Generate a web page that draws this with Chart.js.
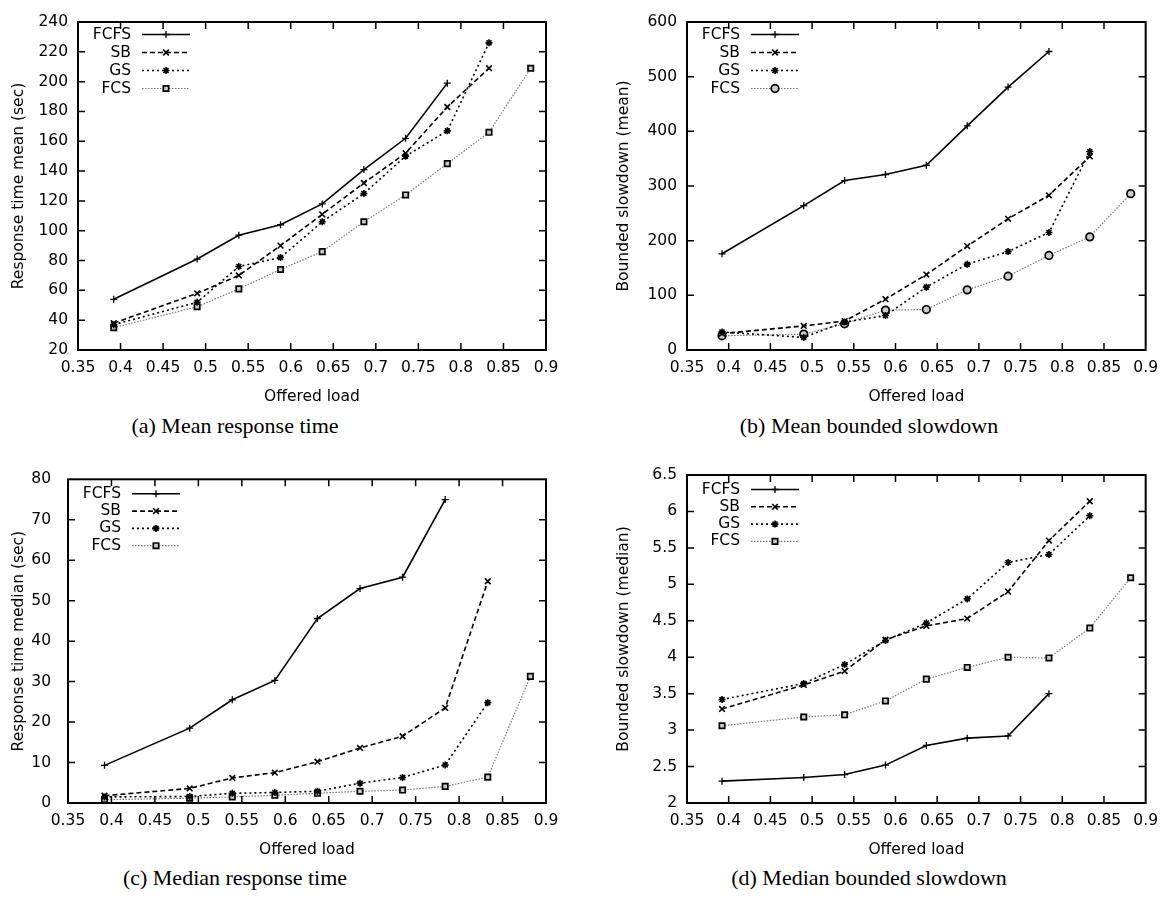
<!DOCTYPE html>
<html>
<head>
<meta charset="utf-8">
<script src="https://cdn.jsdelivr.net/npm/chart.js"></script>
<style>
  html, body { margin: 0; padding: 0; background: #fff; overflow: hidden; }
  body { width: 1167px; height: 900px; position: relative; }
  canvas { position: absolute; }
  .cap { position: absolute; width: 400px; text-align: center; font: 22px "Liberation Serif", "Times New Roman", serif; line-height: 22px; color: #000; }
</style>
</head>
<body>
<canvas id="meanResp" width="583" height="410" style="left:0;top:0"></canvas>
<canvas id="meanBsd" width="567" height="410" style="left:600px;top:0"></canvas>
<canvas id="medResp" width="583" height="410" style="left:0;top:453px"></canvas>
<canvas id="medBsd" width="567" height="410" style="left:600px;top:453px"></canvas>
<div class="cap" style="left:35px;top:415px">(a) Mean response time</div>
<div class="cap" style="left:669px;top:415px">(b) Mean bounded slowdown</div>
<div class="cap" style="left:35px;top:867px">(c) Median response time</div>
<div class="cap" style="left:669px;top:867px">(d) Median bounded slowdown</div>
<div id="dbg" style="position:absolute;left:0;top:884px;font:11px monospace;white-space:pre"></div>
<script>
// offered load for each run
var loads = [0.392, 0.49, 0.539, 0.588, 0.637, 0.686, 0.735, 0.784, 0.833, 0.882];
var xTicks = [0.35, 0.4, 0.45, 0.5, 0.55, 0.6, 0.65, 0.7, 0.75, 0.8, 0.85, 0.9];

// (a) mean response time (sec)
var fcfsMeanResp = [54, 81, 97, 104, 118, 141, 162, 199];
var sbMeanResp = [38, 58, 70, 90, 111, 132, 152, 183, 209];
var gsMeanResp = [37, 52, 76, 82, 106, 125, 150, 167, 226];
var fcsMeanResp = [35, 49, 61, 74, 86, 106, 124, 145, 166, 209];
var yTicksA = [20, 40, 60, 80, 100, 120, 140, 160, 180, 200, 220, 240];

// (b) mean bounded slowdown
var fcfsMeanBsd = [176, 264, 310, 321, 338, 410, 481, 546];
var sbMeanBsd = [30, 44, 53, 93, 138, 190, 240, 283, 354];
var gsMeanBsd = [33, 23, 51, 63, 115, 157, 180, 215, 363];
var fcsMeanBsd = [26, 29, 48, 73, 74, 110, 135, 173, 207, 286];
var yTicksB = [0, 100, 200, 300, 400, 500, 600];

// (c) median response time (sec)
var fcfsMedResp = [9.3, 18.5, 25.5, 30.3, 45.6, 53, 55.8, 75];
var sbMedResp = [1.8, 3.6, 6.2, 7.5, 10.2, 13.6, 16.5, 23.5, 54.8];
var gsMedResp = [1.5, 1.6, 2.4, 2.6, 2.9, 4.9, 6.3, 9.4, 24.8];
var fcsMedResp = [0.8, 1.2, 1.5, 1.9, 2.4, 2.9, 3.2, 4.1, 6.4, 31.3];
var yTicksC = [0, 10, 20, 30, 40, 50, 60, 70, 80];

// (d) median bounded slowdown
var fcfsMedBsd = [2.3, 2.35, 2.39, 2.52, 2.79, 2.89, 2.92, 3.5];
var sbMedBsd = [3.29, 3.62, 3.81, 4.24, 4.43, 4.53, 4.9, 5.6, 6.14];
var gsMedBsd = [3.42, 3.64, 3.9, 4.23, 4.47, 4.8, 5.3, 5.41, 5.94];
var fcsMedBsd = [3.06, 3.18, 3.21, 3.4, 3.7, 3.86, 4.0, 3.99, 4.4, 5.09];
var yTicksD = [2, 2.5, 3, 3.5, 4, 4.5, 5, 5.5, 6, 6.5];

var FONT = 'DejaVu Sans';
Chart.defaults.font.family = FONT;
Chart.defaults.font.size = 15.5;
Chart.defaults.color = '#000';

function pts(vals) {
    return vals.map(function (v, i) { return {x: loads[i], y: v}; });
}

function series(fcfs, sb, gs, fcs, fcsMarker) {
    return [
        {label: 'FCFS', data: pts(fcfs), borderColor: '#000', borderWidth: 1.6, borderDash: [],
         pointStyle: 'cross', pointRadius: 3.5, pointBorderWidth: 1.3, pointBorderColor: '#000', pointBackgroundColor: '#000'},
        {label: 'SB', data: pts(sb), borderColor: '#000', borderWidth: 1.6, borderDash: [5, 3],
         pointStyle: 'crossRot', pointRadius: 4, pointBorderWidth: 1.6, pointBorderColor: '#000', pointBackgroundColor: '#000'},
        {label: 'GS', data: pts(gs), borderColor: '#000', borderWidth: 1.6, borderDash: [2, 3],
         pointStyle: 'star', pointRadius: 3.5, pointBorderWidth: 1.6, pointBorderColor: '#000', pointBackgroundColor: '#000'},
        {label: 'FCS', data: pts(fcs), borderColor: '#777', borderWidth: 1.2, borderDash: [1.5, 1.5],
         pointStyle: fcsMarker, pointRadius: 3.8, pointBorderWidth: 1.7, pointBorderColor: '#000', pointBackgroundColor: '#ccc'}
    ];
}

function resetCtx(ctx) {
    ctx.setTransform(1, 0, 0, 1, 0, 0);
    ctx.globalCompositeOperation = 'source-over';
    ctx.globalAlpha = 1;
    ctx.shadowColor = 'rgba(0,0,0,0)';
    ctx.shadowBlur = 0;
    ctx.setLineDash([]);
    ctx.lineDashOffset = 0;
}

// gnuplot-like frame: box border, inward mirrored ticks, key inside top-left
var gnuFrame = {
    id: 'gnuFrame',
    afterDraw: function (chart, args, opts) {
        var ctx = chart.ctx, a = chart.chartArea, xs = chart.scales.x, ys = chart.scales.y;
        ctx.save();
        resetCtx(ctx);
        ctx.strokeStyle = '#000';
        ctx.lineWidth = 1.5;
        ctx.beginPath();
        xs.ticks.forEach(function (t) {
            var tx = xs.getPixelForValue(t.value);
            if (tx <= a.left + 1 || tx >= a.right - 1) return;
            ctx.moveTo(tx, a.bottom); ctx.lineTo(tx, a.bottom - 7);
            ctx.moveTo(tx, a.top); ctx.lineTo(tx, a.top + 7);
        });
        ys.ticks.forEach(function (t) {
            var ty = ys.getPixelForValue(t.value);
            if (ty <= a.top + 1 || ty >= a.bottom - 1) return;
            ctx.moveTo(a.left, ty); ctx.lineTo(a.left + 7, ty);
            ctx.moveTo(a.right, ty); ctx.lineTo(a.right - 7, ty);
        });
        ctx.stroke();
        ctx.lineWidth = 2;
        ctx.strokeRect(a.left, a.top, a.right - a.left, a.bottom - a.top);

        // key
        ctx.font = '15.5px "' + FONT + '"';
        ctx.textAlign = 'right';
        ctx.textBaseline = 'middle';
        chart.data.datasets.forEach(function (ds, i) {
            var yy = a.top + opts.dy + i * opts.gap;
            ctx.fillStyle = '#000';
            ctx.fillText(ds.label, a.left + 53, yy);
            ctx.setLineDash(ds.borderDash);
            ctx.strokeStyle = ds.borderColor;
            ctx.lineWidth = ds.borderWidth;
            ctx.beginPath();
            ctx.moveTo(a.left + 64, yy); ctx.lineTo(a.left + 112, yy);
            ctx.stroke();
            ctx.setLineDash([]);
            ctx.fillStyle = ds.pointBackgroundColor;
            ctx.strokeStyle = ds.pointBorderColor;
            ctx.lineWidth = ds.pointBorderWidth;
            Chart.helpers.drawPoint(ctx, {pointStyle: ds.pointStyle, radius: ds.pointRadius, rotation: 0,
                borderWidth: ds.pointBorderWidth}, a.left + 88, yy);
        });
        ctx.restore();
    }
};

var charts = [];
function makeChart(id, datasets, yTicks, yTitle, yWidth, rightPad, titlePad, tickPad, key) {
    var c = new Chart(document.getElementById(id), {
        type: 'line',
        data: {datasets: datasets},
        options: {
            responsive: false,
            animation: false,
            layout: {padding: {top: 22, right: rightPad, left: 0, bottom: 0}},
            plugins: {legend: {display: false}, tooltip: {enabled: false}, gnuFrame: key},
            elements: {line: {tension: 0, fill: false}},
            scales: {
                x: {
                    type: 'linear', min: xTicks[0], max: xTicks[xTicks.length - 1],
                    afterBuildTicks: function (s) { s.ticks = xTicks.map(function (v) { return {value: v}; }); },
                    afterFit: function (s) { s.height = 60; },
                    ticks: {padding: 9, maxRotation: 0, autoSkip: false, callback: function (v) { return String(v); }},
                    grid: {display: false, drawTicks: false},
                    border: {display: false},
                    title: {display: true, text: 'Offered load', font: {size: 15.5}, padding: {top: 0, bottom: 4}}
                },
                y: {
                    type: 'linear', min: yTicks[0], max: yTicks[yTicks.length - 1],
                    afterBuildTicks: function (s) { s.ticks = yTicks.map(function (v) { return {value: v}; }); },
                    afterFit: function (s) { s.width = yWidth; },
                    ticks: {padding: tickPad, autoSkip: false, callback: function (v) { return String(v); }},
                    grid: {display: false, drawTicks: false},
                    border: {display: false},
                    title: {display: true, text: yTitle, font: {size: 15.5}, padding: {top: titlePad, bottom: 0}}
                }
            }
        },
        plugins: [gnuFrame]
    });
    charts.push(c);
}

makeChart('meanResp', series(fcfsMeanResp, sbMeanResp, gsMeanResp, fcsMeanResp, 'rect'),
    yTicksA, 'Response time mean (sec)', 78, 37, 10, 10, {dy: 12.5, gap: 18});
makeChart('meanBsd', series(fcfsMeanBsd, sbMeanBsd, gsMeanBsd, fcsMeanBsd, 'circle'),
    yTicksB, 'Bounded slowdown (mean)', 87, 14, 15, 10, {dy: 12.5, gap: 18});
makeChart('medResp', series(fcfsMedResp, sbMedResp, gsMedResp, fcsMedResp, 'rect'),
    yTicksC, 'Response time median (sec)', 68, 37, 10, 17, {dy: 14.5, gap: 17.3});
makeChart('medBsd', series(fcfsMedBsd, sbMedBsd, gsMedBsd, fcsMedBsd, 'rect'),
    yTicksD, 'Bounded slowdown (median)', 87, 14, 15, 10, {dy: 14.5, gap: 17.3});

// report only if the frame did not make it onto the canvas
var c0 = charts[0], a0 = c0.chartArea;
var d0 = c0.ctx.getImageData(a0.left, a0.top + 150, 1, 1).data;
if (d0[3] < 100) {
    document.getElementById('dbg').textContent = 'frame px ' + Array.from(d0).join(',') + ' area ' + JSON.stringify(a0) +
        ' w ' + c0.canvas.width + ' sw ' + c0.canvas.style.width;
}
</script>
</body>
</html>
